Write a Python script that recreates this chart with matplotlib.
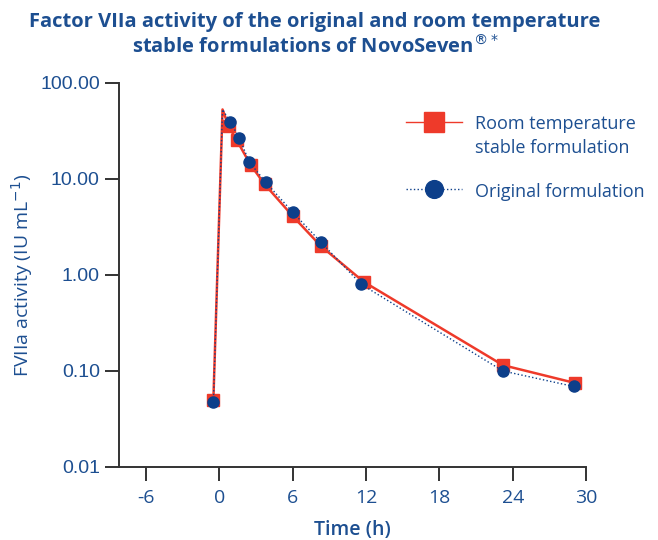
import matplotlib
matplotlib.use('Agg')

import matplotlib.pyplot as plt

# Room temperature stable formulation
rt_time = [-0.5, 0.25, 0.75, 1.4, 2.55, 3.7, 6.0, 8.3, 11.8, 23.2, 29.1]
rt_act = [0.05, 53, 35.5, 25.5, 14.0, 8.8, 4.1, 2.0, 0.85, 0.115, 0.075]

# Original formulation
orig_time = [-0.5, 0.25, 0.9, 1.6, 2.45, 3.8, 6.0, 8.3, 11.6, 23.2, 29.0]
orig_act = [0.047, 53, 39, 27, 15.0, 9.2, 4.5, 2.2, 0.8, 0.10, 0.069]

x_ticks = [-6, 0, 6, 12, 18, 24, 30]
y_ticks = [0.01, 0.1, 1, 10, 100]
y_tick_labels = ['0.01', '0.10', '1.00', '10.00', '100.00']

navy = '#1d4f91'
red = '#ee3a2a'
blue = '#0d3f8a'
axis_col = '#333333'

# the peak point carries no marker in the original
marks = [i for i in range(len(rt_time)) if i != 1]

fig = plt.figure(figsize=(6.58, 5.4), dpi=100)
ax = fig.add_axes([0.1813, 0.1352, 0.7093, 0.7111])

ax.plot(rt_time, rt_act, color=red, linewidth=1.8, marker='s', markersize=9,
        markevery=marks, label='Room temperature\nstable formulation', zorder=2)
ax.plot(orig_time, orig_act, color=blue, linewidth=1.0, linestyle=':', marker='o',
        markersize=8, markevery=marks, label='Original formulation', zorder=3)

ax.set_yscale('log')
ax.set_ylim(0.01, 100)
ax.set_xlim(-8.2, 30)
ax.set_yticks(y_ticks)
ax.set_yticklabels(y_tick_labels, family='Liberation Sans', fontsize=14, color=navy)
ax.minorticks_off()
ax.set_xticks(x_ticks)
ax.set_xticklabels([str(t) for t in x_ticks], family='Open Sans', fontsize=14, color=navy)

for side in ['top', 'right']:
    ax.spines[side].set_visible(False)
for side in ['left', 'bottom']:
    ax.spines[side].set_color(axis_col)
    ax.spines[side].set_linewidth(1.4)
ax.tick_params(direction='out', length=10, width=1.4, color=axis_col)
ax.tick_params(axis='x', pad=6)
ax.tick_params(axis='y', pad=4)

ax.set_xlabel('Time (h)', family='Open Sans', fontweight='semibold', fontsize=14,
              color=navy, labelpad=9)
ax.set_ylabel('FVIIa activity (IU mL$^{-1}$)', family='Open Sans', fontsize=14,
              color=navy, labelpad=4)

fig.text(315 / 658, 1 - 35 / 540,
         'Factor VIIa activity of the original and room temperature\nstable formulations of NovoSeven$^{\u00ae*}$',
         ha='center', va='center', family='Open Sans', fontweight='bold', fontsize=14.5,
         color=navy, linespacing=1.25)

leg = ax.legend(loc='upper left', bbox_to_anchor=(390 / 658, 1 - 99 / 540),
                bbox_transform=fig.transFigure, frameon=False,
                handlelength=3.1, handletextpad=0.7, labelspacing=1.45,
                markerscale=1.6, prop={'family': 'Open Sans', 'size': 13})
for txt in leg.get_texts():
    txt.set_color(navy)
    txt.set_linespacing(1.4)
leg.legend_handles[0].set_linewidth(1.0)
# put the handle level with the first text line, as in the original
for item in leg._legend_handle_box.get_children()[0].get_children():
    item.align = 'top'

fig.savefig('out.png', dpi=100)
